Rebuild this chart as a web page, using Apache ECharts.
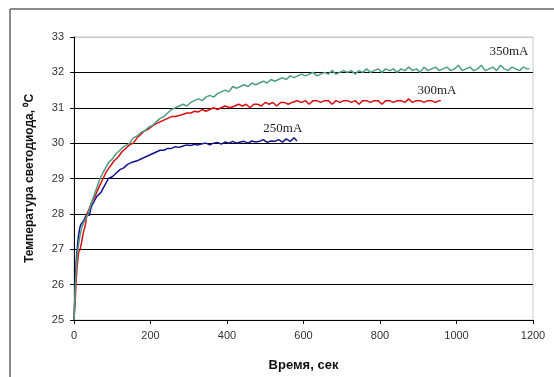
<!DOCTYPE html>
<html><head><meta charset="utf-8">
<script src="https://cdn.jsdelivr.net/npm/echarts@6/dist/echarts.min.js"></script>
<style>html,body{margin:0;padding:0;background:#fff}#c{width:554px;height:377px}</style>
</head><body><div id="c"></div>
<script>
const xTicks = [0, 200, 400, 600, 800, 1000, 1200];
const yTicks = [25, 26, 27, 28, 29, 30, 31, 32, 33];
const seriesNames = ['350mA', '300mA', '250mA'];
const s350 = [[0,25.0],[3,25.8],[6,26.5],[10,27.0],[15,27.35],[20,27.6],[25,27.75],[30,27.85],[37,28.0],[45,28.3],[55,28.6],[68,29.0],[80,29.25],[90,29.45],[100,29.55],[110,29.7],[120,29.8],[130,29.9],[146,30.0],[155,30.15],[165,30.2],[175,30.3],[185,30.35],[195,30.45],[205,30.5],[215,30.6],[225,30.7],[235,30.75],[245,30.85],[255,30.95],[265,31.0],[275,31.05],[285,31.1],[295,31.05],[305,31.15],[315,31.2],[325,31.25],[335,31.2],[345,31.3],[355,31.35],[365,31.3],[375,31.4],[385,31.45],[395,31.5],[405,31.45],[415,31.6],[425,31.55],[435,31.6],[445,31.65],[455,31.6],[465,31.7],[475,31.65],[485,31.7],[495,31.75],[505,31.7],[515,31.8],[525,31.75],[535,31.8],[545,31.85],[555,31.8],[565,31.9],[575,31.85],[585,31.9],[595,31.95],[605,31.9],[615,31.95],[625,32.0],[635,31.9],[645,31.95],[655,32.0],[665,31.95],[675,32.05],[685,31.95],[695,32.0],[705,32.05],[715,32.0],[725,32.05],[735,31.95],[745,32.05],[755,32.0],[765,32.1],[775,32.0],[785,32.05],[795,32.1],[805,32.0],[815,32.1],[825,32.05],[835,32.1],[845,32.0],[855,32.1],[865,32.05],[875,32.15],[885,32.05],[895,32.1],[905,32.0],[915,32.15],[925,32.05],[935,32.1],[945,32.15],[955,32.05],[965,32.1],[975,32.15],[985,32.05],[995,32.1],[1005,32.2],[1015,32.05],[1025,32.1],[1035,32.15],[1045,32.05],[1055,32.1],[1065,32.2],[1075,32.05],[1085,32.1],[1095,32.15],[1105,32.05],[1115,32.2],[1125,32.1],[1135,32.05],[1145,32.15],[1155,32.1],[1165,32.05],[1175,32.15],[1185,32.1],[1190,32.1]];
const s300 = [[0,25.0],[3,25.5],[5,26.0],[8,26.5],[12,26.9],[16,27.0],[20,27.2],[24,27.45],[28,27.5],[30,27.7],[34,28.0],[40,28.15],[45,28.3],[55,28.5],[65,28.75],[76,29.0],[85,29.2],[95,29.35],[105,29.5],[115,29.6],[125,29.75],[135,29.85],[145,29.95],[155,30.0],[165,30.15],[175,30.25],[185,30.35],[195,30.4],[207,30.5],[215,30.55],[225,30.6],[235,30.65],[245,30.7],[255,30.75],[265,30.75],[282,30.8],[295,30.85],[305,30.85],[315,30.9],[325,30.88],[335,30.95],[345,30.9],[355,30.95],[365,31.0],[375,30.95],[385,31.0],[395,31.05],[408,31.0],[420,31.05],[430,31.1],[440,31.05],[450,31.1],[460,31.0],[470,31.1],[480,31.1],[490,31.05],[500,31.15],[510,31.1],[520,31.15],[530,31.05],[540,31.15],[550,31.15],[560,31.1],[570,31.15],[583,31.2],[595,31.15],[605,31.2],[615,31.1],[625,31.2],[635,31.2],[645,31.15],[655,31.2],[665,31.2],[675,31.1],[685,31.2],[695,31.15],[705,31.2],[715,31.2],[725,31.15],[735,31.2],[745,31.1],[755,31.2],[765,31.2],[775,31.15],[785,31.2],[795,31.2],[805,31.1],[815,31.2],[825,31.2],[835,31.15],[845,31.2],[855,31.2],[865,31.15],[875,31.25],[885,31.15],[895,31.2],[905,31.2],[915,31.15],[925,31.2],[935,31.2],[945,31.15],[955,31.2],[959,31.2]];
const s250 = [[0,25.0],[2,25.6],[4,26.2],[6,26.7],[9,27.1],[12,27.4],[15,27.6],[18,27.7],[21,27.7],[25,27.8],[30,27.85],[34,28.0],[40,27.95],[45,28.2],[50,28.3],[55,28.4],[60,28.5],[70,28.6],[80,28.8],[90,29.0],[100,29.05],[110,29.15],[120,29.25],[130,29.3],[140,29.4],[150,29.45],[165,29.5],[175,29.55],[185,29.6],[195,29.65],[205,29.7],[215,29.75],[225,29.8],[235,29.8],[245,29.85],[255,29.85],[265,29.9],[275,29.88],[285,29.92],[295,29.95],[305,29.93],[315,29.97],[325,29.95],[335,29.98],[345,30.0],[355,29.95],[365,30.0],[375,30.02],[385,29.97],[395,30.03],[405,30.0],[415,30.05],[425,30.0],[435,30.03],[445,30.05],[455,30.0],[465,30.06],[475,30.03],[485,30.05],[495,30.1],[505,30.02],[515,30.06],[525,30.05],[535,30.1],[545,30.03],[555,30.12],[565,30.05],[575,30.15],[583,30.06]];
const labelPos = [[1137, 32.58], [949, 31.49], [546, 30.40]];

const colors = ['#4f9e83', '#d80f0f', '#14148f'];
const datasets = [s350, s300, s250];

const chart = echarts.init(document.getElementById('c'));
const series = datasets.map((d, i) => ({
  name: seriesNames[i],
  type: 'line',
  data: d,
  showSymbol: false,
  symbol: 'none',
  lineStyle: { color: colors[i], width: 1.5 },
  z: 10 - i,
  markPoint: {
    symbol: 'rect', symbolSize: 1, itemStyle: { color: 'rgba(0,0,0,0)' },
    label: { show: true, formatter: seriesNames[i], fontFamily: 'Liberation Serif', fontSize: 13, color: '#222', position: 'inside' },
    data: [{ coord: labelPos[i] }]
  }
}));

const splitColors = yTicks.map((v, i) => i === yTicks.length - 1 ? '#c8c8c8' : '#000');

chart.setOption({
  animation: false,
  backgroundColor: '#fff',
  graphic: [
    { type: 'line', shape: { x1: 10, y1: 9, x2: 554, y2: 9 }, style: { stroke: '#8a8a8a', lineWidth: 2 }, z: -1 },
    { type: 'line', shape: { x1: 10, y1: 9, x2: 10, y2: 377 }, style: { stroke: '#8a8a8a', lineWidth: 2 }, z: -1 }
  ],
  grid: { left: 74, top: 37, right: 21, bottom: 54, show: true, borderColor: '#c8c8c8', borderWidth: 1, backgroundColor: '#fff' },
  xAxis: {
    type: 'value', min: 0, max: 1200, interval: 200,
    name: 'Время, сек', nameLocation: 'middle', nameGap: 39,
    nameTextStyle: { fontFamily: 'Liberation Sans', fontWeight: 'bold', fontSize: 13, color: '#111' },
    axisLine: { lineStyle: { color: '#000', width: 1 } },
    axisTick: { show: true, length: 4, lineStyle: { color: '#000' } },
    axisLabel: { fontFamily: 'Liberation Sans', fontSize: 11, color: '#333', margin: 10, formatter: v => String(v) },
    splitLine: { show: false }
  },
  yAxis: {
    type: 'value', min: 25, max: 33, interval: 1,
    name: 'Температура светодиода, ⁰C', nameLocation: 'middle', nameGap: 38,
    nameTextStyle: { fontFamily: 'Liberation Sans', fontWeight: 'bold', fontSize: 12, color: '#111' },
    axisLine: { show: true, lineStyle: { color: '#000', width: 1 } },
    axisTick: { show: true, length: 4, lineStyle: { color: '#000' } },
    axisLabel: { fontFamily: 'Liberation Sans', fontSize: 11, color: '#333', margin: 10, formatter: v => String(v) },
    splitLine: { show: true, lineStyle: { color: splitColors, width: 1 } }
  },
  series: series
});
</script></body></html>
